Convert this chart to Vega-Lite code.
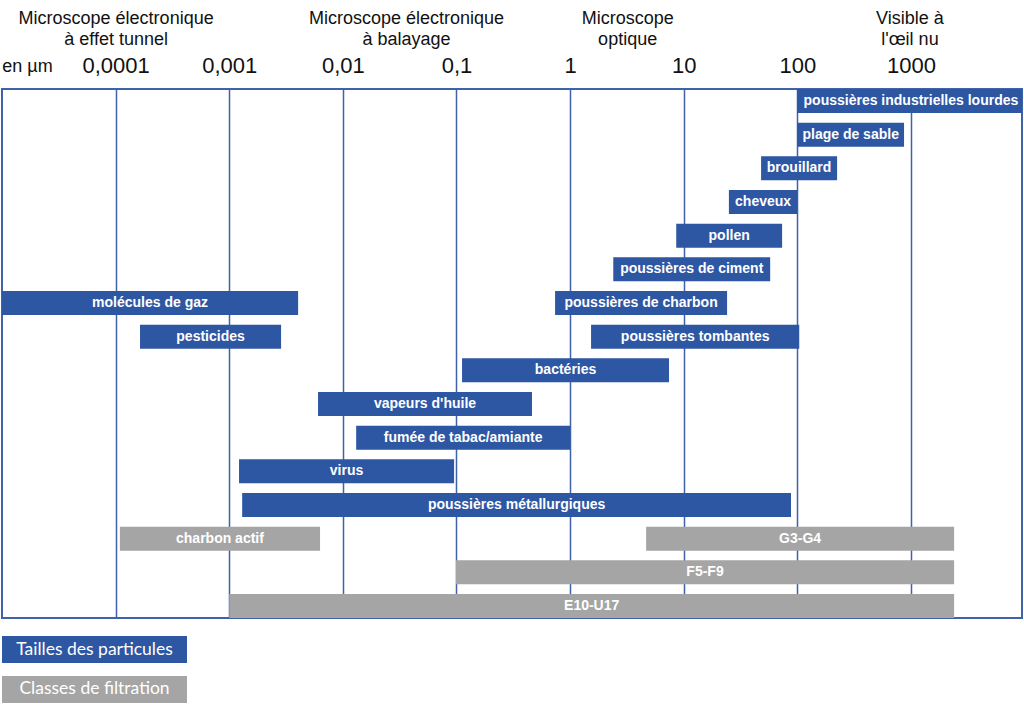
{
  "$schema": "https://vega.github.io/schema/vega-lite/v6.json",
  "background": "white",
  "padding": {"left": 0, "top": 8, "right": 0, "bottom": 0},
  "autosize": {"type": "pad"},
  "config": {"view": {"stroke": null}, "font": "Liberation Sans"},
  "spacing": 17,
  "vconcat": [
    {
      "width": 1020,
      "height": 529,
      "view": {"stroke": "#3f62a8", "strokeWidth": 2},
      "data": {
        "values": [
          {"row": 1, "label": "poussières industrielles lourdes", "start": 100, "end": 10000, "kind": "p"},
          {"row": 2, "label": "plage de sable", "start": 100, "end": 870, "kind": "p"},
          {"row": 3, "label": "brouillard", "start": 48, "end": 224, "kind": "p"},
          {"row": 4, "label": "cheveux", "start": 25, "end": 100, "kind": "p"},
          {"row": 5, "label": "pollen", "start": 8.6, "end": 73.5, "kind": "p"},
          {"row": 6, "label": "poussières de ciment", "start": 2.4, "end": 57.7, "kind": "p"},
          {"row": 7, "label": "molécules de gaz", "start": 0.00001, "end": 0.00404, "kind": "p"},
          {"row": 7, "label": "poussières de charbon", "start": 0.738, "end": 24.1, "kind": "p"},
          {"row": 8, "label": "pesticides", "start": 0.000164, "end": 0.00286, "kind": "p"},
          {"row": 8, "label": "poussières tombantes", "start": 1.53, "end": 104, "kind": "p"},
          {"row": 9, "label": "bactéries", "start": 0.112, "end": 7.43, "kind": "p"},
          {"row": 10, "label": "vapeurs d'huile", "start": 0.00605, "end": 0.462, "kind": "p"},
          {"row": 11, "label": "fumée de tabac/amiante", "start": 0.0131, "end": 1, "kind": "p"},
          {"row": 12, "label": "virus", "start": 0.00122, "end": 0.0953, "kind": "p"},
          {"row": 13, "label": "poussières métallurgiques", "start": 0.0013, "end": 88, "kind": "p"},
          {"row": 14, "label": "charbon actif", "start": 0.000109, "end": 0.0063, "kind": "f"},
          {"row": 14, "label": "G3-G4", "start": 4.67, "end": 2400, "kind": "f"},
          {"row": 15, "label": "F5-F9", "start": 0.099, "end": 2400, "kind": "f"},
          {"row": 16, "label": "E10-U17", "start": 0.001, "end": 2400, "kind": "f"}
        ]
      },
      "layer": [
        {
          "mark": {"type": "bar", "clip": true},
          "encoding": {
            "x": {
              "field": "start",
              "type": "quantitative",
              "scale": {"type": "log", "domain": [0.00001, 9500], "nice": false},
              "axis": {
                "orient": "top",
                "values": [0.0001, 0.001, 0.01, 0.1, 1, 10, 100, 1000],
                "labelExpr": "replace(toString(datum.value), '.', ',')",
                "grid": true,
                "gridColor": "#3f62a8",
                "gridWidth": 1.5,
                "gridOpacity": 1,
                "ticks": false,
                "domain": false,
                "labelFontSize": 22,
                "labelFont": "Liberation Sans",
                "labelColor": "#111111",
                "labelPadding": 12,
                "labelFlush": false,
                "labelOverlap": false,
                "title": "en µm",
                "titleFont": "Liberation Sans",
                "titleFontSize": 18,
                "titleFontWeight": "normal",
                "titleColor": "#111111",
                "titleX": 25,
                "titleY": -18,
                "titleAlign": "center",
                "titleBaseline": "alphabetic",
                "titleAngle": 0
              }
            },
            "x2": {"field": "end"},
            "y": {
              "field": "row",
              "type": "ordinal",
              "scale": {"paddingInner": 0.287, "paddingOuter": 0},
              "axis": null
            },
            "color": {
              "field": "kind",
              "type": "nominal",
              "scale": {"domain": ["p", "f"], "range": ["#2d56a3", "#a5a5a5"]},
              "legend": null
            }
          }
        },
        {
          "transform": [{"calculate": "sqrt(datum.start * datum.end)", "as": "labelAt"}],
          "mark": {"type": "text", "color": "white", "fontWeight": "bold", "fontSize": 14, "font": "Liberation Sans", "clip": true},
          "encoding": {
            "x": {
              "field": "labelAt",
              "type": "quantitative",
              "axis": {
                "orient": "top",
                "values": [0.0001, 0.036, 3.18, 970],
                "labelExpr": "datum.value < 0.001 ? ['Microscope électronique', 'à effet tunnel'] : datum.value < 1 ? ['Microscope électronique', 'à balayage'] : datum.value < 100 ? ['Microscope', 'optique'] : ['Visible à', \"l'œil nu\"]",
                "grid": false,
                "ticks": false,
                "domain": false,
                "labelFont": "Liberation Sans",
                "labelFontSize": 18,
                "labelLineHeight": 21,
                "labelColor": "#111111",
                "labelPadding": 62,
                "labelLimit": 0,
                "labelFlush": false,
                "labelOverlap": false,
                "title": null
              }
            },
            "y": {"field": "row", "type": "ordinal"},
            "text": {"field": "label"}
          }
        }
      ],
      "resolve": {"axis": {"x": "independent"}}
    },
    {
      "width": 185,
      "height": 67,
      "data": {
        "values": [
          {"label": "Tailles des particules", "kind": "p"},
          {"label": "Classes de filtration", "kind": "f"}
        ]
      },
      "encoding": {
        "y": {
          "field": "label",
          "type": "nominal",
          "sort": null,
          "scale": {"paddingInner": 0.32, "paddingOuter": 0},
          "axis": null
        }
      },
      "layer": [
        {
          "mark": "bar",
          "encoding": {
            "color": {
              "field": "kind",
              "type": "nominal",
              "scale": {"domain": ["p", "f"], "range": ["#2d56a3", "#a5a5a5"]},
              "legend": null
            }
          }
        },
        {
          "mark": {"type": "text", "color": "white", "fontSize": 17.5, "font": "Lato"},
          "encoding": {"text": {"field": "label"}}
        }
      ]
    }
  ]
}
